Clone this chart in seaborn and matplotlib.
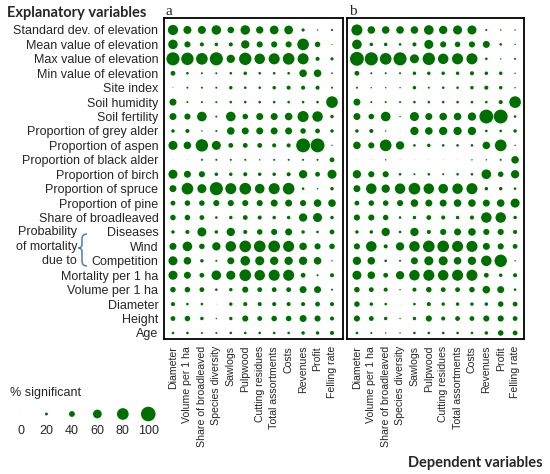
import numpy as np
import pandas as pd
import seaborn as sns
import matplotlib.pyplot as plt
from matplotlib.path import Path
from matplotlib.patches import PathPatch
import matplotlib.transforms as mtransforms

# Explanatory (rows) and dependent (columns) variables
explanatory = [
    "Standard dev. of elevation", "Mean value of elevation", "Max value of elevation",
    "Min value of elevation", "Site index", "Soil humidity", "Soil fertility",
    "Proportion of grey alder", "Proportion of aspen", "Proportion of black alder",
    "Proportion of birch", "Proportion of spruce", "Proportion of pine",
    "Share of broadleaved", "Diseases", "Wind", "Competition",
    "Mortality per 1 ha", "Volume per 1 ha", "Diameter", "Height", "Age",
]
dependent = [
    "Diameter", "Volume per 1 ha", "Share of broadleaved", "Species diversity",
    "Sawlogs", "Pulpwood", "Cutting residues", "Total assortments", "Costs",
    "Revenues", "Profit", "Felling rate",
]

# % significant, panel a (rows = explanatory, cols = dependent)
pct_a = [
    [70, 55, 55, 65, 45, 65, 50, 60, 60, 22, 10, 15],
    [65, 42, 28, 24, 28, 57, 42, 42, 42, 80, 38, 8],
    [90, 85, 80, 90, 57, 85, 72, 76, 80, 76, 28, 22],
    [33, 18, 14, 14, 18, 24, 18, 18, 18, 52, 52, 12],
    [6, 14, 14, 14, 24, 18, 18, 24, 28, 28, 28, 14],
    [48, 14, 14, 14, 18, 18, 18, 18, 18, 18, 18, 80],
    [48, 42, 66, 14, 66, 38, 48, 48, 52, 76, 72, 24],
    [24, 28, 10, 14, 52, 48, 48, 48, 48, 38, 33, 24],
    [62, 52, 85, 62, 33, 33, 33, 28, 28, 95, 95, 10],
    [4, 4, 14, 14, 14, 14, 10, 14, 14, 14, 14, 33],
    [62, 48, 42, 24, 24, 28, 24, 24, 28, 57, 33, 62],
    [48, 80, 62, 90, 76, 80, 66, 76, 80, 18, 10, 24],
    [33, 38, 38, 42, 42, 42, 42, 48, 48, 42, 52, 52],
    [38, 38, 33, 18, 24, 33, 28, 24, 24, 57, 62, 24],
    [24, 28, 62, 24, 57, 28, 38, 42, 48, 24, 18, 33],
    [48, 66, 38, 57, 72, 80, 80, 80, 76, 52, 42, 38],
    [62, 52, 24, 14, 48, 66, 62, 57, 57, 57, 52, 10],
    [62, 48, 33, 66, 62, 80, 72, 76, 76, 33, 14, 28],
    [38, 38, 33, 18, 24, 42, 33, 33, 33, 48, 48, 14],
    [28, 18, 18, 4, 24, 28, 28, 28, 28, 28, 33, 28],
    [33, 38, 24, 10, 24, 42, 33, 38, 38, 48, 42, 28],
    [18, 18, 14, 14, 18, 18, 18, 18, 18, 24, 24, 28],
]

# % significant, panel b
pct_b = [
    [76, 52, 52, 52, 52, 66, 57, 62, 62, 14, 10, 10],
    [66, 24, 24, 18, 28, 62, 42, 38, 42, 48, 18, 10],
    [95, 90, 80, 90, 62, 85, 72, 76, 76, 18, 10, 14],
    [33, 14, 14, 14, 24, 24, 24, 24, 28, 24, 24, 10],
    [14, 10, 10, 10, 24, 14, 18, 18, 24, 28, 24, 10],
    [48, 14, 14, 14, 18, 18, 18, 18, 18, 18, 28, 80],
    [48, 38, 66, 10, 62, 48, 52, 52, 57, 95, 95, 18],
    [24, 28, 10, 4, 57, 52, 57, 57, 57, 18, 18, 24],
    [52, 42, 80, 57, 18, 24, 18, 18, 18, 52, 80, 10],
    [4, 4, 10, 4, 4, 4, 4, 4, 10, 10, 14, 52],
    [57, 42, 42, 18, 14, 18, 14, 18, 18, 66, 38, 57],
    [48, 72, 57, 72, 80, 72, 66, 72, 76, 24, 24, 18],
    [33, 38, 38, 42, 52, 48, 48, 52, 52, 48, 52, 62],
    [42, 42, 38, 18, 24, 33, 28, 24, 28, 72, 72, 24],
    [24, 24, 57, 18, 57, 28, 42, 48, 52, 42, 42, 28],
    [42, 72, 28, 57, 72, 80, 80, 76, 76, 48, 42, 33],
    [57, 52, 18, 14, 48, 62, 62, 52, 57, 72, 85, 10],
    [62, 52, 33, 57, 72, 76, 72, 76, 76, 33, 24, 28],
    [38, 33, 28, 10, 28, 38, 33, 33, 38, 52, 48, 18],
    [38, 24, 18, 4, 18, 28, 24, 24, 24, 24, 38, 33],
    [42, 33, 24, 10, 24, 42, 28, 33, 33, 42, 42, 33],
    [18, 14, 10, 10, 18, 18, 18, 18, 18, 24, 38, 33],
]

legend_values = [0, 20, 40, 60, 80, 100]

GREEN = "#006e00"
W, H = 550, 474


def area(p):
    # dot diameter grows linearly with the percentage (100% ~ 14 px)
    return (max(p, 2.5) * 0.105) ** 2


def to_long(values):
    df = pd.DataFrame(values, index=explanatory, columns=dependent)
    df = df.reset_index(names="explanatory")
    return df.melt(id_vars="explanatory", var_name="dependent", value_name="pct")


def px_axes(fig, left, top, right, bottom):
    return fig.add_axes([left / W, 1 - bottom / H, (right - left) / W, (bottom - top) / H])


sns.set_style("white")
plt.rcParams["font.family"] = ["Liberation Sans", "DejaVu Sans"]

fig = plt.figure(figsize=(W / 100, H / 100), dpi=100)

panels = [
    ("a", pct_a, (164, 18, 343, 339), (-0.62, 11.76)),
    ("b", pct_b, (347, 18, 524, 339), (-0.69, 11.62)),
]

for i, (tag, values, box, xlim) in enumerate(panels):
    ax = px_axes(fig, *box)
    df = to_long(values)
    sizes = {v: area(v) for v in df["pct"].unique()}
    sns.scatterplot(data=df, x="dependent", y="explanatory", size="pct", sizes=sizes,
                    color=GREEN, linewidth=0, legend=False, ax=ax)
    ax.set_xlim(*xlim)
    ax.set_ylim(21.42, -0.83)
    ax.set_xticks(range(len(dependent)))
    ax.set_xticklabels(dependent, rotation=90, fontsize=7.6)
    ax.set_yticks(range(len(explanatory)))
    if i == 0:
        ax.set_yticklabels(explanatory, fontsize=9)
    else:
        ax.set_yticklabels([])
    ax.tick_params(length=0, pad=4)
    ax.tick_params(axis="x", pad=5)
    ax.set_xlabel("")
    ax.set_ylabel("")
    for sp in ax.spines.values():
        sp.set_visible(True)
        sp.set_color("black")
        sp.set_linewidth(1.3)
    ax.text(0.01, 1.0, tag, transform=ax.transAxes, ha="left", va="bottom",
            fontsize=11, family="Liberation Serif")

# pixel-based transform for annotations
px = mtransforms.Affine2D().scale(1 / W, -1 / H).translate(0, 1) + fig.transFigure

fig.text(7, 13, "Explanatory variables", transform=px, ha="left", va="center",
         fontsize=10.5, fontweight="bold", family=["Lato", "DejaVu Sans"])
fig.text(543, 463, "Dependent variables", transform=px, ha="right", va="center",
         fontsize=10.5, fontweight="bold", family=["Lato", "DejaVu Sans"])

# brace for mortality group
for txt, yy in zip(["Probability", "of mortality", "due to"], [232, 247, 261]):
    fig.text(77, yy, txt, transform=px, ha="right", va="center", fontsize=9)
verts = [(87, 234), (82, 234), (82, 239), (82, 244), (82, 248), (78.5, 248),
         (82, 248), (82, 252), (82, 261), (82, 266), (87, 266)]
codes = [Path.MOVETO, Path.CURVE3, Path.CURVE3, Path.LINETO, Path.CURVE3, Path.CURVE3,
         Path.CURVE3, Path.CURVE3, Path.LINETO, Path.CURVE3, Path.CURVE3]
fig.add_artist(PathPatch(Path(verts, codes), transform=px, fill=False,
                         edgecolor="#4a7ebb", linewidth=1.1))

# size legend
fig.text(10, 393, "% significant", transform=px, ha="left", va="center", fontsize=9)
ax_leg = px_axes(fig, 8.3, 400, 161, 440)
leg = pd.DataFrame({"pos": range(len(legend_values)), "y": 0.0, "pct": legend_values})
sns.scatterplot(data=leg, x="pos", y="y", size="pct",
                sizes={v: area(v) for v in legend_values},
                color=GREEN, linewidth=0, legend=False, ax=ax_leg)
ax_leg.set_xlim(-0.5, len(legend_values) - 0.5)
ax_leg.set_ylim(1.3, -0.7)
for p, v in zip(leg["pos"], leg["pct"]):
    ax_leg.text(p, 0.55, str(v), ha="center", va="top", fontsize=9)
ax_leg.axis("off")

fig.savefig("out.png", dpi=100)
